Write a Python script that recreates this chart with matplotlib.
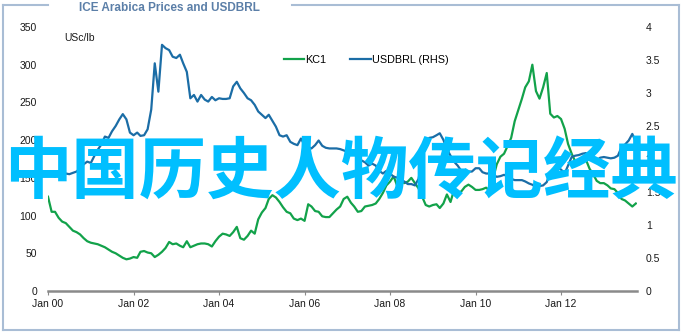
import matplotlib
matplotlib.use("Agg")
import matplotlib.pyplot as plt
import matplotlib.dates as mdates
import pandas as pd

plt.rcParams['font.family'] = ['Liberation Sans', 'DejaVu Sans']

dates = pd.date_range("2000-01-01", periods=166, freq="MS")

kc1 = [125, 105, 105, 97, 92, 90, 85, 80, 78, 75, 70, 66,
       64, 63, 62, 60, 58, 55, 52, 50, 47, 44, 42, 43,
       45, 44, 52, 53, 51, 50, 45, 48, 52, 57, 65, 62,
       63, 60, 58, 66, 58, 60, 62, 63, 63, 62, 59, 66,
       72, 76, 75, 73, 78, 85, 70, 68, 73, 80, 76, 95,
       104, 110, 122, 127, 124, 118, 111, 105, 103, 96, 94, 96,
       93, 115, 112, 106, 105, 99, 98, 98, 103, 108, 112, 122,
       125, 117, 112, 105, 106, 112, 113, 114, 116, 122, 130, 140,
       145, 152, 140, 148, 143, 145, 150, 143, 136, 125, 114, 112,
       114, 115, 110, 116, 128, 118, 134, 130, 132, 138, 141, 138,
       134, 134, 135, 137, 133, 150, 168, 178, 182, 192, 203, 225,
       240, 255, 270, 278, 300, 265, 255, 270, 289, 235, 230, 232,
       228, 215, 195, 182, 172, 168, 174, 174, 162, 155, 146, 143,
       143, 140, 136, 135, 130, 122, 120, 116, 112, 116]

usdbrl = [1.81, 1.76, 1.73, 1.78, 1.80, 1.78, 1.77, 1.79, 1.81, 1.86, 1.92, 1.96,
          1.94, 2.05, 2.14, 2.22, 2.34, 2.32, 2.42, 2.50, 2.60, 2.68, 2.60, 2.40,
          2.36, 2.40, 2.35, 2.36, 2.45, 2.75, 3.45, 3.02, 3.73, 3.68, 3.65, 3.55,
          3.53, 3.58, 3.45, 3.32, 2.92, 2.97, 2.87, 2.97, 2.90, 2.87, 2.94, 2.89,
          2.92, 2.91, 2.91, 2.92, 3.10, 3.17, 3.07, 3.00, 2.92, 2.89, 2.82, 2.72,
          2.67, 2.62, 2.67, 2.58, 2.49, 2.36, 2.34, 2.36, 2.26, 2.23, 2.21, 2.31,
          2.21, 2.18, 2.16, 2.21, 2.28, 2.20, 2.17, 2.16, 2.16, 2.16, 2.15, 2.13,
          2.11, 2.10, 2.07, 2.03, 1.98, 1.95, 1.90, 1.93, 1.90, 1.82, 1.78, 1.82,
          1.78, 1.73, 1.72, 1.68, 1.66, 1.62, 1.62, 1.60, 1.70, 2.00, 2.22, 2.32,
          2.33, 2.36, 2.39, 2.29, 2.15, 2.05, 1.96, 1.90, 1.82, 1.81, 1.81, 1.81,
          1.86, 1.86, 1.80, 1.78, 1.78, 1.76, 1.73, 1.74, 1.76, 1.74, 1.70, 1.68,
          1.68, 1.68, 1.66, 1.63, 1.61, 1.58, 1.59, 1.60, 1.65, 1.80, 1.83, 1.87,
          1.84, 1.78, 1.90, 2.03, 2.05, 2.06, 2.08, 2.09, 2.05, 2.01, 1.98, 2.02,
          2.03, 2.02, 2.01, 2.02, 2.05, 2.18, 2.22, 2.28, 2.38, 2.26]

left_ticks = [0, 50, 100, 150, 200, 250, 300, 350]
right_ticks = [0, 0.5, 1, 1.5, 2, 2.5, 3, 3.5, 4]
right_tick_labels = ["0", "0.5", "1", "1.5", "2", "2.5", "3", "3.5", "4"]
x_ticks = pd.to_datetime(["2000-01-01", "2002-01-01", "2004-01-01", "2006-01-01",
                          "2008-01-01", "2010-01-01", "2012-01-01"])
x_tick_labels = ["Jan 00", "Jan 02", "Jan 04", "Jan 06", "Jan 08", "Jan 10", "Jan 12"]

W, H = 683, 333
fig = plt.figure(figsize=(W / 100, H / 100), dpi=100)

green = "#12A24A"
blue = "#1B6DA6"
txt = "#1a1a1a"

ax = fig.add_axes([48 / W, 1 - 291 / H, (636.7 - 48) / W, (291 - 27) / H])
ax2 = ax.twinx()

ax.plot(dates, kc1, color=green, lw=1.6, label="KC1", zorder=3)
ax2.plot(dates, usdbrl, color=blue, lw=1.6, label="USDBRL (RHS)", zorder=3)

ax.set_ylim(0, 350)
ax2.set_ylim(0, 4)
x0 = mdates.date2num(pd.Timestamp("2000-01-01"))
x1 = x0 + 13.77 * 365.25
ax.set_xlim(x0, x1)

for a in (ax, ax2):
    for s in a.spines.values():
        s.set_visible(False)
ax.spines['bottom'].set_visible(True)
ax.spines['bottom'].set_color("#8a8a8a")
ax.spines['bottom'].set_linewidth(1.8)

ax.set_yticks(left_ticks)
ax.set_yticklabels([str(t) for t in left_ticks])
ax2.set_yticks(right_ticks)
ax2.set_yticklabels(right_tick_labels)
ax.set_xticks(mdates.date2num(x_ticks))
ax.set_xticklabels(x_tick_labels)

ax.tick_params(axis='y', length=0, pad=8, labelsize=7.5, labelcolor=txt)
ax2.tick_params(axis='y', length=0, pad=6.5, labelsize=7.5, labelcolor=txt)
ax.tick_params(axis='x', length=3, width=0.8, color="#8a8a8a", pad=3, labelsize=7.5, labelcolor=txt)

ax.text(64 / W, 1 - 38 / H, "USc/lb", transform=fig.transFigure, fontsize=7.5,
        color=txt, va='center', ha='left')

h1, l1 = ax.get_legend_handles_labels()
h2, l2 = ax2.get_legend_handles_labels()
leg = fig.legend(h1 + h2, l1 + l2, loc='center', bbox_to_anchor=(366 / W, 1 - 60 / H),
                 ncol=2, frameon=False, fontsize=7.8, handlelength=1.9, handletextpad=0.1,
                 columnspacing=2.2, borderaxespad=0)

# frame around figure, broken by title
frame_c = "#A9BDD5"
for xs, ys in [([3, 3], [5, 330]), ([679, 679], [5, 330]), ([3, 679], [330, 330]),
               ([3, 48], [5, 5]), ([292, 679], [5, 5])]:
    fig.add_artist(plt.Line2D([v / W for v in xs], [1 - v / H for v in ys], color=frame_c,
                              lw=1.5, transform=fig.transFigure))

fig.text(169 / W, 1 - 8 / H, "ICE Arabica Prices and USDBRL", fontsize=8.5, fontweight='bold',
         color="#5B7FA8", ha='center', va='center')

fig.text(341 / W, 1 - 173 / H, "中国历史人物传记经典", fontsize=48.5, fontweight='bold',
         color="#00BFFF", ha='center', va='center',
         family=['Noto Sans CJK SC', 'DejaVu Sans'], zorder=10)

fig.savefig("out.png", dpi=100)
